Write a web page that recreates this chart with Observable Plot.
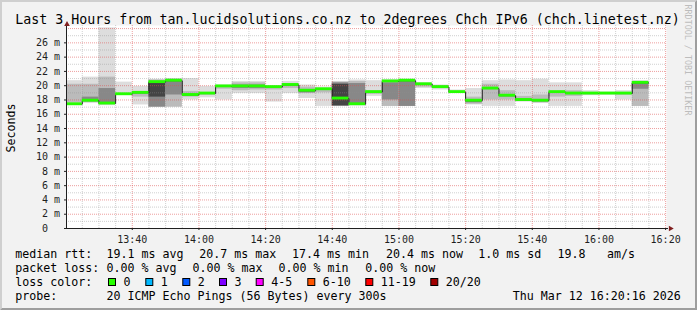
<!DOCTYPE html>
<html><head><meta charset="utf-8">
<script src="https://cdn.jsdelivr.net/npm/d3@7"></script>
<script src="https://cdn.jsdelivr.net/npm/@observablehq/plot@0.6"></script>
<style>html,body{margin:0;padding:0;background:#f2f2f2}</style>
</head><body><div id="chart"></div>
<script>
// ---- data (5-minute bins starting 13:20) ----
const median = [17.4,17.9,17.5,18.8,19.0,20.5,20.7,18.7,18.9,19.9,19.9,19.9,19.8,20.1,19.3,19.5,18.2,17.4,19.1,20.6,20.7,20.2,19.8,19.1,17.9,19.6,18.6,18.0,17.9,19.1,18.9,18.9,18.9,18.9,20.4];
// smoke: outer band (min..max)
const lo1 = [17.2,17.5,17.2,18.7,17.3,17.0,17.0,18.0,18.3,18.0,18.9,18.9,17.7,18.9,18.2,17.1,17.1,17.2,18.5,17.1,17.1,19.6,19.4,18.9,17.3,17.1,17.1,17.7,17.5,17.1,17.1,18.6,18.7,18.0,17.1];
const hi1 = [20.7,21.2,28.1,20.5,19.9,20.9,21.0,21.0,19.9,20.1,20.6,20.6,20.0,20.6,20.1,19.8,20.6,20.8,20.7,20.8,20.9,20.4,20.1,19.4,19.6,20.7,20.8,20.7,20.9,20.4,20.4,19.3,19.1,19.3,20.7];
// second band
const lo2 = [17.6,17.7,17.4,null,18.4,17.0,17.0,18.4,18.7,19.5,19.3,19.4,19.4,19.6,18.9,19.0,17.1,17.2,18.8,17.1,17.1,19.8,19.6,null,17.4,18.0,18.0,17.9,17.6,18.4,18.5,null,null,18.7,17.1];
const hi2 = [20.2,20.2,21.2,null,19.0,20.8,20.9,19.2,19.0,20.0,20.4,20.4,19.9,20.3,19.8,19.6,20.5,20.6,19.3,20.5,20.8,20.3,20.0,null,18.4,20.2,19.3,18.5,18.7,19.2,19.3,null,null,19.0,20.4];
// third band
const lo3 = [null,17.8,17.5,null,null,17.0,18.7,null,null,null,19.6,19.6,null,null,19.0,null,17.1,17.3,null,18.0,17.1,null,null,null,17.6,null,null,null,null,null,null,null,null,null,19.5];
const hi3 = [null,18.4,19.6,null,null,20.5,20.7,null,null,null,20.1,20.1,null,null,19.4,null,20.4,20.3,null,20.4,20.6,null,null,null,17.9,null,null,null,null,null,null,null,null,null,20.3];
// core band
const lo4 = [null,null,null,null,null,18.4,null,null,null,null,null,null,null,null,null,null,17.2,null,null,null,null,null,null,null,null,null,null,null,null,null,null,null,null,null,null];
const hi4 = [null,null,null,null,null,20.4,null,null,null,null,null,null,null,null,null,null,20.2,null,null,null,null,null,null,null,null,null,null,null,null,null,null,null,null,null,null];

const yTicks = [0,2,4,6,8,10,12,14,16,18,20,22,24,26];
const lossLabels = ["0","1","2","3","4-5","6-10","11-19","20/20"];
const lossColors = ["#26ff00","#00b8ff","#0059ff","#7e00ff","#ff00ff","#ff5500","#ff0000","#a10000"];
const statsRtt = ["median rtt:","19.1 ms avg","20.7 ms max","17.4 ms min","20.4 ms now","1.0 ms sd","19.8","am/s"];
const statsLoss = ["packet loss:","0.00 % avg","0.00 % max","0.00 % min","0.00 % now"];
const probeText = ["probe:","20 ICMP Echo Pings (56 Bytes) every 300s"];
const stampText = "Thu Mar 12 16:20:16 2026";
const titleText = "Last 3 Hours from tan.lucidsolutions.co.nz to 2degrees Chch IPv6 (chch.linetest.nz)";

// ---- derived tables ----
const MIN = 60000;
const binStart = Date.UTC(2026,2,12,13,20,0);
const t0 = new Date(Date.UTC(2026,2,12,13,20,16));
const t1 = new Date(Date.UTC(2026,2,12,16,20,16));
const bins = median.map((m,i)=>({
  a:new Date(binStart+i*5*MIN), b:new Date(binStart+(i+1)*5*MIN), m,
  lo1:lo1[i],hi1:hi1[i],lo2:lo2[i],hi2:hi2[i],lo3:lo3[i],hi3:hi3[i],lo4:lo4[i],hi4:hi4[i]}));
const band = (l,h)=>bins.filter(d=>d[l]!=null).map(d=>({a:d.a,b:d.b,y1:d[l],y2:d[h]}));
const stepPts = bins.map(d=>({t:d.a,v:d.m})).concat([{t:bins[bins.length-1].b,v:median[median.length-1]}]);
const fiveMin = d3.range(0,37).map(i=>new Date(binStart+i*5*MIN)).filter(d=>d>t0 && d<=t1);
const majorX = fiveMin.filter(d=>d.getUTCMinutes()%20===0);
const minorX = fiveMin.filter(d=>d.getUTCMinutes()%20!==0);
const minorY = d3.range(1,29,2), majorY = d3.range(2,29,2);
const pxToT = px => new Date(+t0 + (px-66)*18000);

const chart = Plot.plot({
  width:697, height:310,
  marginLeft:66, marginRight:31, marginTop:25, marginBottom:82,
  style:{background:"#f2f2f2", fontFamily:"'DejaVu Sans Mono', monospace", fontSize:"10px", color:"#1f1f1f"},
  x:{type:"utc", domain:[t0,t1]},
  y:{domain:[0,28.43]},
  marks:[
    Plot.frame({fill:"white", stroke:null}),
    Plot.rect(band("lo1","hi1"),{x1:"a",x2:"b",y1:"y1",y2:"y2",fill:"#dddddd",clip:true}),
    Plot.rect(band("lo2","hi2"),{x1:"a",x2:"b",y1:"y1",y2:"y2",fill:"#bbbbbb",clip:true}),
    Plot.rect(band("lo3","hi3"),{x1:"a",x2:"b",y1:"y1",y2:"y2",fill:"#888888",clip:true}),
    Plot.rect(band("lo4","hi4"),{x1:"a",x2:"b",y1:"y1",y2:"y2",fill:"#444444",clip:true}),
    Plot.ruleY(minorY,{stroke:"#8f8f8f",strokeOpacity:0.42,strokeDasharray:"1,1"}),
    Plot.ruleX(minorX,{stroke:"#8f8f8f",strokeOpacity:0.42,strokeDasharray:"1,1"}),
    Plot.ruleY(majorY,{stroke:"#de4f4f",strokeOpacity:0.55,strokeDasharray:"1,1"}),
    Plot.ruleX(majorX,{stroke:"#de4f4f",strokeOpacity:0.55,strokeDasharray:"1,1"}),
    Plot.line(stepPts,{x:"t",y:"v",curve:"step-after",stroke:"#202020",strokeWidth:1,clip:true}),
    Plot.rect(bins,{x1:"a",x2:"b",y1:d=>d.m-0.2,y2:d=>d.m+0.2,fill:"#26ff00",clip:true}),
    Plot.axisY({ticks:yTicks,tickFormat:d=>d===0?"0\u00a0\u00a0":d+" m",tickSize:2,tickPadding:4.5,fontSize:10,label:null}),
    Plot.axisX({ticks:majorX,tickFormat:d3.utcFormat("%H:%M"),tickSize:2,tickPadding:5,fontSize:10,label:null}),
    Plot.ruleY([{v:0,a:t0,b:pxToT(668)}],{y:"v",x1:"a",x2:"b",stroke:"#1f1f1f"}),
    Plot.ruleX([{t:t0,a:0,b:28.43}],{x:"t",y1:"a",y2:"b",stroke:"#1f1f1f"}),
    Plot.dot([{t:pxToT(670),v:0}],{x:"t",y:"v",symbol:"triangle",r:2.1,rotate:90,fill:"#801f1f",stroke:null}),
    Plot.dot([{t:t0,v:28.6}],{x:"t",y:"v",symbol:"triangle",r:2.1,fill:"#801f1f",stroke:null,dx:0.5})
  ]
});
document.getElementById("chart").append(chart);

// ---- titles, legend, frame ----
const svg = d3.select(chart);
const F = "'DejaVu Sans Mono', monospace";
const txt = (x,y,s,size,anchor="start",fill="#000") =>
  svg.append("text").attr("x",x).attr("y",y).attr("font-family",F).attr("font-size",size)
     .attr("text-anchor",anchor).attr("fill",fill).text(s);
txt(15.3,23.5,titleText,13.3);
svg.append("text").attr("transform","translate(11,128) rotate(-90)").attr("dy","0.35em")
   .attr("font-family",F).attr("font-size",11.6).attr("text-anchor","middle").attr("fill","#000").text("Seconds");
svg.append("text").attr("transform","translate(688,60) rotate(90)").attr("dy","0.35em")
   .attr("font-family",F).attr("font-size",8.4).attr("text-anchor","middle").attr("fill","#bdbdbd").text("RRDTOOL / TOBI OETIKER");
const LF = 11.63;
const rttX = [15.3,106.6,199.3,292,386,478.3,557.6,607];
statsRtt.forEach((s,i)=>txt(rttX[i],258.3,s,LF));
const lossX = [15.3,106.6,192.6,278.6,365.3];
statsLoss.forEach((s,i)=>txt(lossX[i],272.3,s,LF));
txt(15.3,286,"loss color:",LF);
const boxX = [108.5,145.8,182.8,219.5,256.2,307.8,365.8,430.8];
lossLabels.forEach((s,i)=>{
  svg.append("rect").attr("x",boxX[i]).attr("y",278.5).attr("width",7).attr("height",7)
     .attr("fill",lossColors[i]).attr("stroke","#000").attr("stroke-width",1);
  txt(boxX[i]+15,286,s,LF);
});
txt(15.3,300,probeText[0],LF);
txt(106.6,300,probeText[1],LF);
txt(680.8,300,stampText,LF,"end");
svg.append("polygon").attr("points","0,0 697,0 695,2 2,2 2,308 0,310").attr("fill","#cfcfcf");
svg.append("polygon").attr("points","697,0 697,310 0,310 2,308 695,308 695,2").attr("fill","#9e9e9e");
</script></body></html>
